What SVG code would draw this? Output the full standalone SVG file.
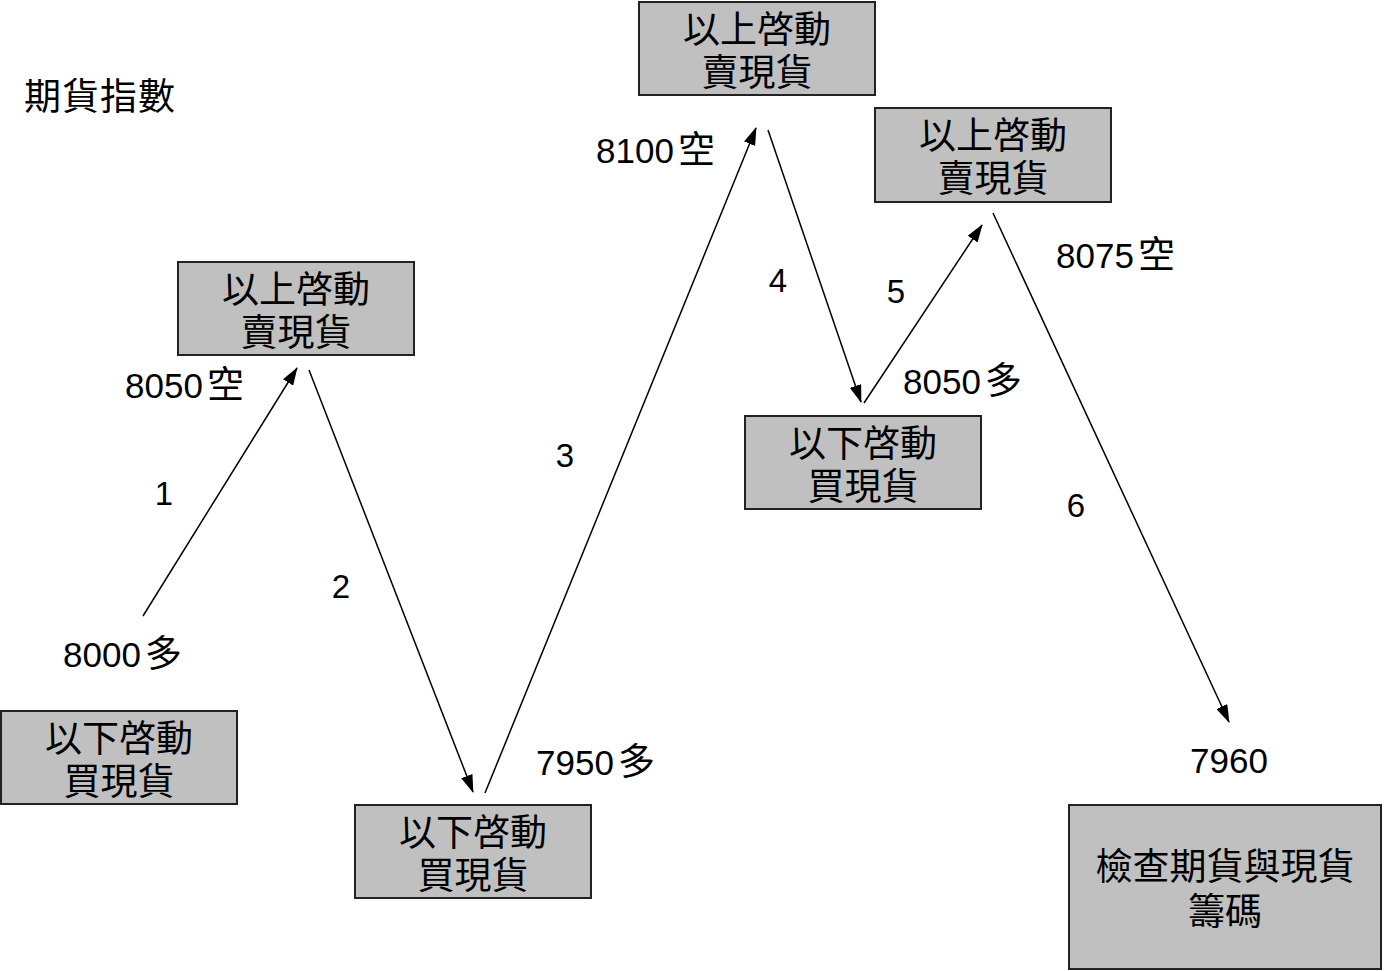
<svg xmlns="http://www.w3.org/2000/svg" width="1384" height="971" viewBox="0 0 1384 971">
<style>
.box{fill:#c0c0c0;stroke:#222;stroke-width:2}
.bt{font-family:"Liberation Sans","Noto Sans CJK TC",sans-serif;font-size:37px;fill:#000;text-anchor:middle}
.lb{font-family:"Liberation Sans","Noto Sans CJK TC",sans-serif;font-size:35px;fill:#000}
.cj{font-size:37px}
.num{font-family:"Liberation Sans",sans-serif;font-size:33px;fill:#000;text-anchor:middle}
.cn{stroke:#000;stroke-width:1.5;fill:none;marker-end:url(#ah)}
</style>
<defs>
<marker id="ah" markerUnits="userSpaceOnUse" markerWidth="18" markerHeight="12" refX="17" refY="6" orient="auto" viewBox="0 0 18 12">
<path d="M0,0 L18,6 L0,12 Z" fill="#000"/>
</marker>
</defs>
<rect width="1384" height="971" fill="#fff"/>
<text x="24" y="110" style="font-family:'Liberation Sans','Noto Sans CJK TC',sans-serif;font-size:37px;letter-spacing:1px">期貨指數</text>
<g id="connectors">
<line class="cn" x1="143" y1="616" x2="297" y2="368"/>
<line class="cn" x1="309" y1="370" x2="473" y2="792"/>
<line class="cn" x1="485" y1="793" x2="756" y2="128"/>
<line class="cn" x1="768" y1="130" x2="861" y2="402"/>
<line class="cn" x1="864" y1="403" x2="982" y2="225"/>
<line class="cn" x1="993" y1="213" x2="1229" y2="722"/>
</g>
<g id="n1"><rect class="box" x="1" y="711" width="236" height="93"/><text class="bt" x="119" y="752">以下啓動</text><text class="bt" x="119" y="795">買現貨</text></g>
<g id="n2"><rect class="box" x="178" y="262" width="236" height="93"/><text class="bt" x="296" y="303">以上啓動</text><text class="bt" x="296" y="346">賣現貨</text></g>
<g id="n3"><rect class="box" x="355" y="805" width="236" height="93"/><text class="bt" x="473" y="846">以下啓動</text><text class="bt" x="473" y="889">買現貨</text></g>
<g id="n4"><rect class="box" x="639" y="2" width="236" height="93"/><text class="bt" x="757" y="43">以上啓動</text><text class="bt" x="757" y="86">賣現貨</text></g>
<g id="n5"><rect class="box" x="875" y="108" width="236" height="94"/><text class="bt" x="993" y="149">以上啓動</text><text class="bt" x="993" y="192">賣現貨</text></g>
<g id="n6"><rect class="box" x="745" y="416" width="236" height="93"/><text class="bt" x="863" y="457">以下啓動</text><text class="bt" x="863" y="500">買現貨</text></g>
<g id="n7"><rect class="box" x="1069" y="805" width="312" height="164"/><text class="bt" x="1225" y="880">檢查期貨與現貨</text><text class="bt" x="1225" y="925">籌碼</text></g>
<g id="labels">
<text class="lb" x="63" y="667">8000<tspan class="cj" dx="4">多</tspan></text>
<text class="lb" x="125" y="398">8050<tspan class="cj" dx="4">空</tspan></text>
<text class="lb" x="596" y="163">8100<tspan class="cj" dx="4">空</tspan></text>
<text class="lb" x="1056" y="268">8075<tspan class="cj" dx="4">空</tspan></text>
<text class="lb" x="903" y="394">8050<tspan class="cj" dx="4">多</tspan></text>
<text class="lb" x="536" y="775">7950<tspan class="cj" dx="4">多</tspan></text>
<text class="lb" x="1190" y="773">7960</text>
<text class="num" x="164" y="505">1</text>
<text class="num" x="341" y="598">2</text>
<text class="num" x="565" y="467">3</text>
<text class="num" x="778" y="292">4</text>
<text class="num" x="896" y="303">5</text>
<text class="num" x="1076" y="517">6</text>
</g>
</svg>
